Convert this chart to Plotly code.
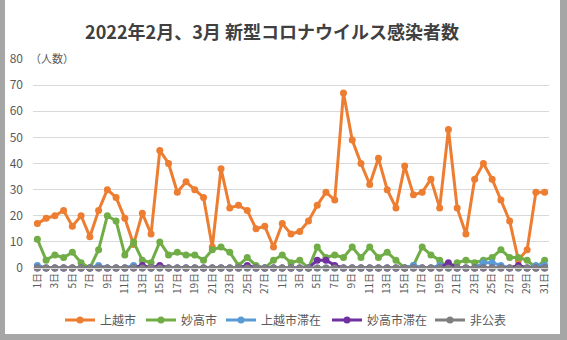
import plotly.graph_objects as go

# Categories: Feb 1-28 and Mar 1-31, 2022
dates = [f"2/{d}" for d in range(1, 29)] + [f"3/{d}" for d in range(1, 32)]
tick_vals = [f"2/{d}" for d in range(1, 29, 2)] + [f"3/{d}" for d in range(1, 32, 2)]
tick_text = [f"{d}日" for d in range(1, 29, 2)] + [f"{d}日" for d in range(1, 32, 2)]

joetsu = [17, 19, 20, 22, 16, 20, 12, 22, 30, 27, 19, 9, 21, 13, 45, 40, 29, 33, 30, 27, 8, 38, 23, 24, 22, 15, 16, 8,
          17, 13, 14, 18, 24, 29, 26, 67, 49, 40, 32, 42, 30, 23, 39, 28, 29, 34, 23, 53, 23, 13, 34, 40, 34, 26, 18, 3, 7, 29, 29]
myoko = [11, 3, 5, 4, 6, 2, 0, 7, 20, 18, 5, 10, 3, 2, 10, 5, 6, 5, 5, 3, 7, 8, 6, 1, 4, 1, 0, 3,
         5, 2, 3, 0, 8, 4, 5, 4, 8, 4, 8, 4, 6, 3, 0, 1, 8, 5, 3, 0, 2, 3, 2, 3, 4, 7, 4, 4, 3, 0, 3]
joetsu_stay = [1, 0, 0, 0, 0, 0, 0, 1, 0, 0, 0, 1, 0, 0, 0, 0, 0, 0, 0, 0, 0, 0, 0, 0, 0, 0, 0, 0,
               0, 0, 0, 0, 0, 0, 0, 0, 0, 0, 0, 0, 0, 0, 0, 1, 0, 0, 1, 0, 0, 0, 0, 2, 2, 1, 0, 0, 0, 1, 1]
myoko_stay = [0, 0, 0, 0, 0, 0, 0, 0, 0, 0, 0, 0, 1, 0, 1, 0, 0, 0, 0, 0, 0, 0, 0, 0, 1, 0, 0, 0,
              0, 0, 0, 0, 3, 3, 1, 0, 0, 0, 0, 0, 0, 0, 0, 0, 0, 0, 0, 2, 0, 0, 0, 0, 0, 0, 0, 1, 0, 0, 0]
undisclosed = [0] * 59

series_names = ["上越市", "妙高市", "上越市滞在", "妙高市滞在", "非公表"]
series_values = [joetsu, myoko, joetsu_stay, myoko_stay, undisclosed]
series_colors = ["#ED7D31", "#70AD47", "#5B9BD5", "#7030A0", "#7F7F7F"]

FONT = "Noto Sans CJK JP"
L, R, T, B = 33, 18, 59, 72
W, H = 567, 340
pw, ph = W - L - R, H - T - B

def px(x):
    return (x - L) / pw

def py(y):
    return (H - B - y) / ph

# legend line centres in pixels
legend_centres = [80, 161, 241, 347, 450]

fig = go.Figure()
legends = {}
for i, (name, vals, col) in enumerate(zip(series_names, series_values, series_colors)):
    key = "legend" if i == 0 else f"legend{i + 1}"
    fig.add_trace(go.Scatter(
        x=dates, y=vals, name=name, mode="lines+markers",
        line=dict(color=col, width=3),
        marker=dict(color=col, size=7),
        cliponaxis=False, legend=key,
    ))
    legends[key] = dict(x=px(legend_centres[i] - 20), xanchor="left", y=py(320), yanchor="middle",
                        orientation="h", font=dict(size=12, color="#595959", family=FONT),
                        bgcolor="rgba(0,0,0,0)", borderwidth=0)

frame_col = "#A6A6A6"
shapes = [
    dict(type="rect", xref="paper", yref="paper", x0=px(0), x1=px(5), y0=py(340), y1=py(0),
         fillcolor=frame_col, line=dict(width=0), layer="below"),
    dict(type="rect", xref="paper", yref="paper", x0=px(560), x1=px(567), y0=py(340), y1=py(0),
         fillcolor=frame_col, line=dict(width=0), layer="below"),
    dict(type="rect", xref="paper", yref="paper", x0=px(0), x1=px(567), y0=py(340), y1=py(334),
         fillcolor=frame_col, line=dict(width=0), layer="below"),
]

fig.update_layout(
    width=W, height=H,
    margin=dict(l=L, r=R, t=T, b=B, pad=0, autoexpand=False),
    paper_bgcolor="white", plot_bgcolor="white",
    font=dict(family=FONT, color="#595959", size=11),
    title=dict(text="<b>2022年2月、3月 新型コロナウイルス感染者数</b>",
               x=px(272), xref="paper", xanchor="center", y=1 - 33 / H, yanchor="middle",
               font=dict(family=FONT, size=18, color="#404040")),
    showlegend=True,
    shapes=shapes,
    annotations=[dict(text="（人数）", xref="paper", yref="paper", x=px(28), y=py(58),
                      xanchor="left", yanchor="middle", showarrow=False,
                      font=dict(size=11, color="#595959"))],
    **legends,
)
fig.update_xaxes(type="category", categoryorder="array", categoryarray=dates,
                 range=[-0.5, 58.5], tickmode="array", tickvals=tick_vals, ticktext=tick_text,
                 tickangle=-90, tickfont=dict(size=10, color="#595959"), automargin=False,
                 showgrid=False, showline=True, linecolor="#D9D9D9", ticks="")
fig.update_yaxes(range=[0, 80], dtick=10, showgrid=True, gridcolor="#D9D9D9", automargin=False,
                 zeroline=False, tickfont=dict(size=12, color="#595959"), ticks="",
                 ticklabelstandoff=9)

fig.write_html("out.html")
